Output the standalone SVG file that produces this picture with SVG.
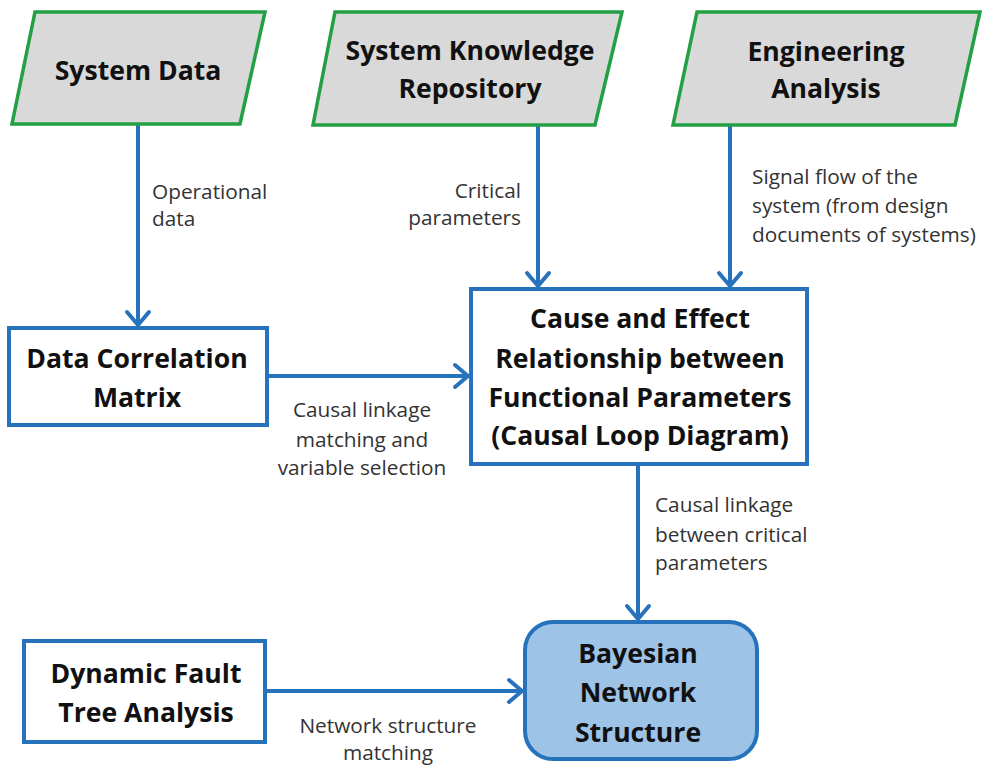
<svg xmlns="http://www.w3.org/2000/svg" width="989" height="766" viewBox="0 0 989 766">
<defs>
<style>
.para{fill:#d9d9d9;stroke:#23a046;stroke-width:3.5;stroke-linejoin:miter}
.box{fill:#ffffff;stroke:#2672bd;stroke-width:4}
.bn{fill:#9dc3e6;stroke:#2672bd;stroke-width:4}
.t{font-family:"Open Sans","Liberation Sans",sans-serif;font-weight:bold;font-size:26.6px;fill:#111;text-anchor:middle}
.l{font-family:"Open Sans","Liberation Sans",sans-serif;font-size:20.8px;fill:#333}
.c{stroke:#2672bd;stroke-width:4;fill:none}
</style>
<marker id="arr" markerUnits="userSpaceOnUse" markerWidth="40" markerHeight="40" viewBox="-20 -20 40 40" refX="0" refY="0" orient="auto">
<path d="M-14,-11 L-1,0 L-14,11" fill="none" stroke="#2672bd" stroke-width="4" stroke-linejoin="round" stroke-linecap="round"/>
</marker>
</defs>
<rect width="989" height="766" fill="#ffffff"/>

<g id="connectors">
<line class="c" x1="138" y1="124" x2="138" y2="326" marker-end="url(#arr)"/>
<line class="c" x1="538" y1="125" x2="538" y2="287" marker-end="url(#arr)"/>
<line class="c" x1="730" y1="125" x2="730" y2="287" marker-end="url(#arr)"/>
<line class="c" x1="267" y1="376" x2="469" y2="376" marker-end="url(#arr)"/>
<line class="c" x1="638" y1="464" x2="638" y2="620" marker-end="url(#arr)"/>
<line class="c" x1="265" y1="691" x2="523" y2="691" marker-end="url(#arr)"/>
<text class="l" x="152" y="199">Operational</text>
<text class="l" x="152" y="226">data</text>
<text class="l" x="521" y="198" text-anchor="end">Critical</text>
<text class="l" x="521" y="225" text-anchor="end">parameters</text>
<text class="l" x="752" y="184">Signal flow of the</text>
<text class="l" x="752" y="213">system (from design</text>
<text class="l" x="752" y="242">documents of systems)</text>
<text class="l" x="362" y="417" text-anchor="middle">Causal linkage</text>
<text class="l" x="362" y="447" text-anchor="middle">matching and</text>
<text class="l" x="362" y="475" text-anchor="middle">variable selection</text>
<text class="l" x="655" y="512">Causal linkage</text>
<text class="l" x="655" y="542">between critical</text>
<text class="l" x="655" y="570">parameters</text>
<text class="l" x="388" y="733" text-anchor="middle">Network structure</text>
<text class="l" x="388" y="760" text-anchor="middle">matching</text>
</g>

<g id="system-data">
<polygon class="para" points="35,12 265,12 240,124 12,124"/>
<text class="t" x="138" y="80">System Data</text>
</g>

<g id="system-knowledge-repository">
<polygon class="para" points="335,12 622,12 595,125 313,125"/>
<text class="t" x="470" y="60">System Knowledge</text>
<text class="t" x="470" y="98">Repository</text>
</g>

<g id="engineering-analysis">
<polygon class="para" points="697,12 980,12 955,125 673,125"/>
<text class="t" x="826" y="61">Engineering</text>
<text class="t" x="826" y="98">Analysis</text>
</g>

<g id="data-correlation-matrix">
<rect class="box" x="9" y="328" width="258" height="97"/>
<text class="t" x="137" y="368">Data Correlation</text>
<text class="t" x="137" y="407">Matrix</text>
</g>

<g id="cause-effect">
<rect class="box" x="471" y="289" width="336" height="175"/>
<text class="t" x="640" y="328">Cause and Effect</text>
<text class="t" x="640" y="368">Relationship between</text>
<text class="t" x="640" y="407">Functional Parameters</text>
<text class="t" x="640" y="445">(Causal Loop Diagram)</text>
</g>

<g id="dynamic-fault-tree">
<rect class="box" x="24" y="641" width="241" height="101"/>
<text class="t" x="146" y="683">Dynamic Fault</text>
<text class="t" x="146" y="722">Tree Analysis</text>
</g>

<g id="bayesian-network">
<rect class="bn" x="525" y="622" width="232" height="137" rx="28" ry="28"/>
<text class="t" x="638" y="663">Bayesian</text>
<text class="t" x="638" y="702">Network</text>
<text class="t" x="638" y="742">Structure</text>
</g>
</svg>
